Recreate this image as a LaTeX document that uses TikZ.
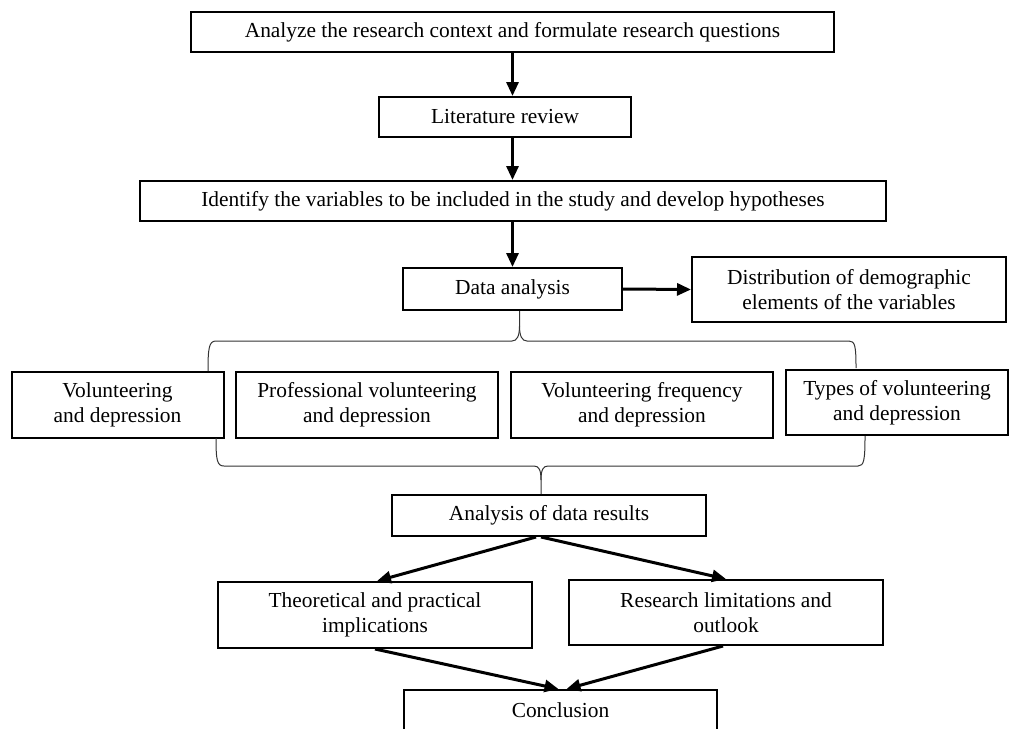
\documentclass[tikz,border=0pt]{standalone}
\usepackage{fontspec}
\setmainfont{Liberation Serif}
\usetikzlibrary{arrows.meta}

\begin{document}
\begin{tikzpicture}[x=0.5pt,y=-0.5pt,font=\fontsize{10.7}{12.5}\selectfont,
  box/.style={draw,line width=1pt,align=center,inner sep=0pt},
  sz/.style 2 args={minimum width={#1*0.5pt},minimum height={#2*0.5pt}},
  arr/.style={line width=1.5pt,-{Triangle[length=7pt,width=6pt]}},
  brace/.style={line width=0.5pt,black!80}]
\useasboundingbox (0,0) rectangle (1010,728);

% main column
\node[box,sz={643}{40}] (analyze) at (512.5,32) {Analyze the research context and formulate research questions};
\node[box,sz={252}{40}] (litrev) at (505,117) {Literature review};
\node[box,sz={746}{40}] (ident) at (513,201) {Identify the variables to be included in the study and develop hypotheses};
\node[box,sz={219}{42}] (data) at (512.5,289) {Data analysis};
\node[box,sz={314}{65}] (distrib) at (849,289.5) {Distribution of demographic\\elements of the variables};

% four relations
\node[box,sz={212}{66}] (vol) at (117.5,405) {Volunteering\\and depression};
\node[box,sz={262}{66}] (prof) at (367,405) {Professional volunteering\\and depression};
\node[box,sz={262}{66}] (freq) at (642,405) {Volunteering frequency\\and depression};
\node[box,sz={222}{65}] (types) at (897,402.5) {Types of volunteering\\and depression};

\node[box,sz={314}{41}] (results) at (549,515.5) {Analysis of data results};
\node[box,sz={314}{66}] (theory) at (375,615) {Theoretical and practical\\implications};
\node[box,sz={314}{65}] (research) at (726,612.5) {Research limitations and\\outlook};
\node[box,sz={313}{40}] (concl) at (560.5,710) {Conclusion};

\draw[arr] (analyze.south) -- (analyze.south |- litrev.north);
\draw[arr] (analyze.south |- litrev.south) -- (analyze.south |- ident.north);
\draw[arr] (analyze.south |- ident.south) -- (analyze.south |- data.north);
\draw[arr] (data.east) -- (distrib.west);

% braces
\coordinate (tt) at (519.5,326);
\coordinate (bt) at (541,480);
\draw[brace] (208,371) .. controls (208,348) and (209,341) .. (216,341) -- (512,341)
  .. controls (517,341) and (519.5,336) .. (tt) -- (data.south -| tt);
\draw[brace] (tt) .. controls (519.5,336) and (522,341) .. (527,341) -- (849,341)
  .. controls (855,341) and (856,346) .. (856,368);
\draw[brace] (216,438) .. controls (216,460) and (217,466) .. (224,466) -- (534,466)
  .. controls (539,466) and (541,470) .. (bt) -- (results.north -| bt);
\draw[brace] (bt) .. controls (541,470) and (543,466) .. (548,466) -- (858,466)
  .. controls (864,466) and (865,460) .. (865,436);

\draw[arr] ([xshift=-6.5pt]results.south) -- ([xshift=1pt]theory.north);
\draw[arr] ([xshift=-4pt]results.south) -- (research.north);
\draw[arr] (theory.south) -- ([xshift=-1pt]concl.north);
\draw[arr] ([xshift=-1.5pt]research.south) -- ([xshift=3pt]concl.north);

\end{tikzpicture}
\end{document}
